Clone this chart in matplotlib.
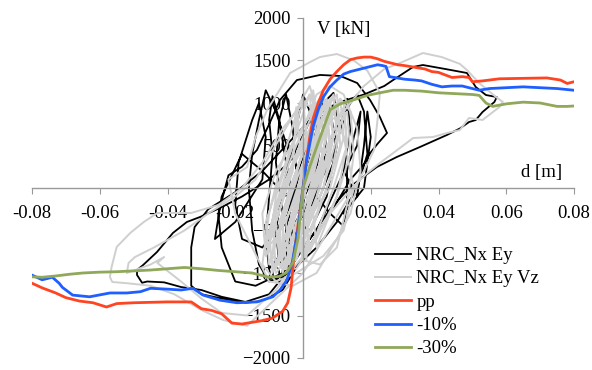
import numpy as np
import matplotlib
matplotlib.use("Agg")
import matplotlib.pyplot as plt

plt.rcParams['font.family'] = ['Liberation Serif', 'DejaVu Serif']

# pushover curves (d [m], V [kN])
pp_d = [-0.080, -0.077, -0.073, -0.070, -0.066, -0.062, -0.058, -0.055, -0.050, -0.045,
        -0.040, -0.036, -0.033, -0.030, -0.027, -0.024, -0.021, -0.018, -0.015, -0.012,
        -0.009, -0.0075, -0.006, -0.0045, -0.0035, -0.0025, -0.0015, -0.0008, 0.0,
        0.001, 0.002, 0.003, 0.0045, 0.006, 0.008, 0.010, 0.012, 0.014, 0.016, 0.018,
        0.020, 0.022, 0.024, 0.026, 0.028, 0.030, 0.033, 0.036, 0.038, 0.040, 0.042,
        0.044, 0.047, 0.049, 0.050, 0.053, 0.058, 0.065, 0.072, 0.076, 0.078, 0.080]
pp_v = [-1120, -1175, -1235, -1290, -1330, -1350, -1400, -1360, -1350, -1345,
        -1340, -1340, -1340, -1420, -1440, -1480, -1590, -1600, -1580, -1560,
        -1530, -1490, -1450, -1350, -1170, -730, -450, -250, 0,
        330, 600, 820, 1000, 1150, 1280, 1370, 1450, 1510, 1530, 1540,
        1540, 1520, 1490, 1470, 1450, 1440, 1420, 1400, 1370, 1360, 1330,
        1300, 1310, 1300, 1250, 1260, 1285, 1290, 1295, 1270, 1230, 1250]

m10_d = [-0.080, -0.077, -0.074, -0.072, -0.071, -0.068, -0.063, -0.057, -0.052, -0.048,
         -0.045, -0.040, -0.036, -0.0325, -0.0295, -0.0245, -0.0195, -0.0136, -0.0089,
         -0.0068, -0.0047, -0.0032, -0.0015, 0.0,
         0.001, 0.002, 0.003, 0.0045, 0.006, 0.008, 0.010, 0.012, 0.014, 0.016, 0.018,
         0.020, 0.022, 0.0235, 0.0245, 0.0255, 0.027, 0.030, 0.033, 0.035, 0.038, 0.041,
         0.044, 0.047, 0.050, 0.052, 0.055, 0.060, 0.065, 0.070, 0.075, 0.080]
m10_v = [-1025, -1080, -1050, -1120, -1170, -1260, -1280, -1235, -1235, -1220,
         -1180, -1190, -1200, -1180, -1260, -1320, -1350, -1340, -1280,
         -1200, -1080, -880, -500, 0,
         300, 520, 720, 920, 1070, 1190, 1270, 1340, 1370, 1390, 1410,
         1430, 1450, 1440, 1430, 1310, 1300, 1280, 1270, 1260, 1220, 1190,
         1200, 1200, 1170, 1150, 1170, 1180, 1190, 1180, 1170, 1150]

m30_d = [-0.080, -0.077, -0.073, -0.069, -0.065, -0.060, -0.055, -0.050, -0.045, -0.040,
         -0.035, -0.030, -0.025, -0.020, -0.015, -0.012, -0.010, -0.007, -0.005, -0.003,
         -0.0015, 0.0,
         0.002, 0.004, 0.006, 0.008, 0.011, 0.0148, 0.019, 0.0227, 0.0266, 0.030, 0.035,
         0.040, 0.045, 0.050, 0.052, 0.054, 0.056, 0.060, 0.065, 0.070, 0.075, 0.078, 0.080]
m30_v = [-1045, -1050, -1035, -1015, -1000, -990, -985, -975, -965, -950,
         -935, -950, -970, -985, -1000, -1030, -1050, -1040, -1000, -880,
         -600, 0,
         250, 480, 700, 920, 990, 1035, 1090, 1120, 1150, 1150, 1140,
         1120, 1110, 1100, 1090, 1000, 960, 990, 1010, 1000, 960, 960, 965]

# cyclic test, NRC_Nx Ey
black_pts = [
    (0.000, 0), (0.003, 500), (0.005, 900), (0.006, 1080), (0.007, 700), (0.006, 200),
    (0.001, -400), (-0.003, -750), (-0.005, -850), (-0.005, -400), (-0.002, 100),
    (0.002, 600), (0.006, 1000), (0.009, 1120), (0.010, 800), (0.009, 300),
    (0.004, -200), (-0.002, -650), (-0.007, -900), (-0.008, -500), (-0.006, 0),
    (-0.003, 500), (-0.001, 900), (0.000, 1100), (0.002, 900), (0.003, 400),
    (0.000, -200), (-0.005, -700), (-0.010, -950), (-0.011, -600), (-0.010, -100),
    (-0.009, 400), (-0.010, 800), (-0.009, 1080), (-0.007, 800), (-0.005, 300),
    (-0.002, -300), (0.004, 200), (0.010, 700), (0.014, 1000), (0.016, 1100),
    (0.018, 900), (0.019, 400), (0.016, 0), (0.010, -400), (0.004, -700),
    (-0.004, -1000), (-0.010, -1100), (-0.013, -900), (-0.015, -500), (-0.016, 0),
    (-0.015, 400), (-0.013, 800), (-0.011, 1150), (-0.008, 900), (-0.004, 400),
    (0.002, 0), (0.008, -300), (0.012, -450), (0.013, -200), (0.013, 200),
    (0.015, 600), (0.017, 900), (0.016, 500), (0.011, 100), (0.004, -500),
    (-0.006, -1000), (-0.014, -1150), (-0.020, -1100), (-0.024, -700), (-0.025, -300),
    (-0.022, 150), (-0.018, 250), (-0.0136, 447), (-0.010, 750), (-0.0068, 1035),
    (-0.0018, 1270), (0.005, 1330), (0.011, 1318), (0.016, 1235), (0.0198, 1035),
    (0.0227, 835), (0.0248, 647), (0.022, 520), (0.020, 420), (0.018, 280),
    (0.014, 100), (0.008, -300), (0.000, -800), (-0.006, -1200), (-0.012, -1330),
    (-0.017, -1350), (-0.024, -1300), (-0.030, -1250), (-0.033, -1150), (-0.033, -700),
    (-0.032, -460), (-0.028, -250), (-0.020, -50), (-0.012, 200), (-0.005, 500),
    (0.002, 800), (0.010, 1000), (0.018, 1100), (0.024, 1200), (0.0266, 1270),
    (0.0325, 1424), (0.0354, 1447), (0.042, 1400), (0.0484, 1353), (0.051, 1188),
    (0.054, 1094), (0.0572, 1070), (0.0565, 1012), (0.053, 894), (0.051, 800),
    (0.049, 776), (0.0463, 700), (0.0425, 624), (0.0345, 482), (0.0277, 365),
    (0.0218, 247), (0.0177, 129), (0.0139, 12), (0.008, -250), (0.002, -600),
    (-0.004, -950), (-0.010, -1250), (-0.017, -1340), (-0.024, -1280), (-0.030, -1200),
    (-0.036, -1165), (-0.041, -1110), (-0.046, -1100), (-0.0475, -1115), (-0.049, -1023),
    (-0.049, -965), (-0.0472, -906), (-0.0431, -753), (-0.0384, -529), (-0.0343, -400),
    (-0.0304, -341), (-0.0245, -235), (-0.018, -100), (-0.010, 100), (-0.004, 300),
    (0.001, 700), (0.004, 1000), (0.006, 700), (0.003, 0), (-0.003, -600),
    (-0.006, -800), (-0.004, -300), (0.000, 300), (0.004, 800), (0.008, 900),
    (0.010, 500), (0.007, -100), (0.002, -500),
    (-0.006, -300), (-0.008, 300), (-0.007, 800), (-0.005, 1100), (-0.003, 700),
    (-0.002, 200), (-0.006, -400), (-0.012, -700), (-0.018, -600), (-0.020, -200),
    (-0.019, 300), (-0.015, 800), (-0.013, 1000), (-0.011, 600), (-0.012, 100),
    (-0.020, -400), (-0.026, -600), (-0.024, -100), (-0.018, 400), (-0.012, 200),
    (0.000, -300), (0.008, 300), (0.012, 800), (0.013, 1050), (0.014, 700),
    (0.012, 200), (0.016, -100), (0.018, 500), (0.019, 900), (0.020, 600),
    (0.018, 0), (0.012, -300),
]

# cyclic test, NRC_Nx Ey Vz
gray_pts = [
    (0.000, 0), (0.004, 600), (0.008, 1000), (0.010, 1100), (0.011, 700), (0.008, 100),
    (0.002, -500), (-0.004, -850), (-0.007, -900), (-0.007, -500), (-0.004, 0),
    (0.001, 500), (0.005, 900), (0.007, 1050), (0.009, 600), (0.006, 0), (0.000, -600),
    (-0.006, -950), (-0.009, -800), (-0.008, -300), (-0.004, 200), (0.002, 700),
    (0.004, 1000), (0.006, 1100), (0.008, 500), (0.004, -100), (-0.002, -700),
    (-0.008, -1000), (-0.010, -700), (-0.008, -100), (-0.003, 500), (-0.001, 900),
    (0.002, 1100), (0.005, 800), (0.003, 200), (-0.002, -300), (-0.006, -800),
    (-0.004, -500), (0.001, 100), (0.006, 700), (0.010, 1000), (0.012, 1000),
    (0.013, 500), (0.010, -100), (0.004, -600), (-0.002, -950), (-0.006, -950),
    (-0.006, -400), (-0.002, 200), (0.003, 800), (0.006, 1050), (0.007, 700),
    (0.005, 200), (0.000, -400), (-0.005, -900), (-0.003, -600), (0.001, 0),
    (0.004, 400), (0.008, 800), (0.011, 1050), (0.014, 900), (0.015, 400),
    (0.013, -200), (0.010, -700), (0.005, -900), (0.000, -850), (-0.003, -300),
    (0.000, 300), (0.003, 700), (0.005, 950), (0.009, 900), (0.012, 600),
    (0.015, 0), (0.012, -500), (0.006, -800), (-0.002, -1000), (-0.008, -1100),
    (-0.012, -900), (-0.010, -300), (-0.007, 200), (-0.004, 600), (-0.001, 1000),
    (0.002, 1200), (0.004, 900), (0.001, 300), (-0.003, -200), (-0.008, -600),
    (-0.011, -700), (-0.008, -200), (-0.004, 300), (0.000, 700), (0.004, 1100),
    (0.008, 1200), (0.012, 1100), (0.016, 700), (0.017, 200), (0.014, -300),
    (0.010, -600), (0.004, -1000), (-0.003, -1150), (-0.010, -1100), (-0.015, -700),
    (-0.020, -300), (-0.022, 100), (-0.0165, 247), (-0.014, 600), (-0.0106, 918),
    (-0.0038, 1353), (0.002, 1480), (0.005, 1541), (0.010, 1576), (0.015, 1500),
    (0.019, 1380), (0.0227, 1118), (0.022, 800), (0.021, 450), (0.018, 200),
    (0.012, -200), (0.006, -600), (0.000, -1000), (-0.008, -1300), (-0.0165, -1620),
    (-0.0236, -1553), (-0.030, -1435), (-0.038, -1250), (-0.045, -1150), (-0.052, -1120),
    (-0.0563, -1106), (-0.057, -1047), (-0.0565, -929), (-0.055, -694), (-0.051, -529),
    (-0.047, -400), (-0.043, -294), (-0.033, -294), (-0.025, -200), (-0.018, 0),
    (-0.012, 300), (-0.006, 700), (0.000, 1000), (0.010, 800), (0.018, 1200),
    (0.024, 1400), (0.0286, 1470), (0.0354, 1588), (0.041, 1540), (0.0463, 1460),
    (0.0484, 1388), (0.052, 1235), (0.057, 1070), (0.059, 1012), (0.058, 953),
    (0.053, 800), (0.049, 824), (0.0463, 682), (0.0425, 647), (0.0384, 600),
    (0.0325, 588), (0.0286, 470), (0.0227, 294), (0.019, 176), (0.0148, 12),
    (0.008, -300), (0.000, -800), (-0.008, -1200), (-0.0165, -1500), (-0.024, -1470),
    (-0.030, -1300), (-0.036, -1100), (-0.043, -882), (-0.041, -812), (-0.045, -900),
    (-0.052, -1000), (-0.0515, -882), (-0.0496, -812), (-0.044, -700), (-0.035, -500),
    (-0.028, -300), (-0.020, -100), (-0.014, 100),
    # dense late cycles around the origin
    (0.000, 1050), (0.001, 600), (-0.003, 0), (-0.010, -900), (-0.011, -400), (-0.006, 200),
    (0.002, 1100), (0.003, 600), (-0.001, 0), (-0.008, -950), (-0.009, -400), (-0.004, 200),
    (0.004, 1000), (0.005, 500), (0.001, 0), (-0.006, -1000), (-0.007, -400), (-0.002, 200),
    (0.006, 1100), (0.007, 600), (0.003, 0), (-0.004, -900), (-0.005, -400), (0.000, 200),
    (0.008, 1050), (0.009, 600), (0.005, 0), (-0.002, -850), (-0.003, -400), (0.002, 200),
    (0.010, 1000), (0.011, 500), (0.007, 0), (0.000, -800), (-0.001, -400), (0.004, 200),
    (0.012, 950), (0.013, 500), (0.009, 0), (0.002, -750), (0.001, -300), (0.006, 300),
    (0.003, 1150), (0.004, 600), (0.000, 0), (-0.009, -1000), (-0.010, -500), (-0.005, 100),
    (0.007, 1000), (0.008, 500), (0.004, 0), (-0.005, -950), (-0.006, -400), (-0.001, 200),
    (0.009, 1100), (0.010, 600), (0.006, 0), (-0.003, -900), (-0.004, -400), (0.001, 200),
    (0.011, 1050), (0.012, 600), (0.008, 0), (-0.007, -850), (-0.008, -400), (-0.003, 200),
    (-0.002, 950), (-0.001, 500), (-0.005, 0), (-0.011, -800), (-0.012, -300), (-0.008, 200),
    (0.005, 1050), (0.006, 600), (0.002, 0), (0.001, -850), (0.000, -400), (0.005, 300),
    (0.013, 900), (0.014, 400), (0.010, -100), (0.004, -700), (0.003, -300), (0.000, 0),
]

black_d = [p[0] for p in black_pts]
black_v = [p[1] for p in black_pts]
gray_d = [p[0] for p in gray_pts]
gray_v = [p[1] for p in gray_pts]

fig = plt.figure(figsize=(5.92, 3.70), dpi=100)
ax = fig.add_axes([32 / 592, 12 / 370, 542 / 592, 340 / 370])

ax.plot(black_d, black_v, color='black', lw=1.3, label='NRC_Nx Ey')
ax.plot(gray_d, gray_v, color='#cfcfcf', lw=1.4, label='NRC_Nx Ey Vz')
ax.plot(pp_d, pp_v, color='#ff4422', lw=2.0, label='pp')
ax.plot(m10_d, m10_v, color='#1f5fff', lw=2.0, label='-10%')
ax.plot(m30_d, m30_v, color='#8fa85a', lw=2.0, label='-30%')

ax.set_xlim(-0.08, 0.08)
ax.set_ylim(-2000, 2000)
ax.set_xticks([-0.08, -0.06, -0.04, -0.02, 0, 0.02, 0.04, 0.06, 0.08])
ax.set_xticklabels(['-0.08', '-0.06', '-0.04', '-0.02', '0', '0.02', '0.04', '0.06', '0.08'])
ax.set_yticks([-2000, -1500, -1000, -500, 0, 500, 1000, 1500, 2000])

for s in ['top', 'right']:
    ax.spines[s].set_visible(False)
ax.spines['left'].set_position(('data', 0))
ax.spines['bottom'].set_position(('data', 0))
for s in ['left', 'bottom']:
    ax.spines[s].set_color('#999999')
    ax.spines[s].set_linewidth(1.0)
ax.tick_params(axis='both', colors='#999999', labelcolor='black', labelsize=13.5, length=4)
ax.tick_params(axis='x', pad=8)
ax.tick_params(axis='y', pad=5)
ax.patch.set_visible(False)

ax.text(0.526, 0.965, 'V [kN]', transform=ax.transAxes, fontsize=13.5, ha='left', va='center')
ax.text(0.941, 0.547, 'd [m]', transform=ax.transAxes, fontsize=13.5, ha='center', va='center')

leg = ax.legend(loc='upper left', bbox_to_anchor=(375 / 592, 1 - 247 / 370),
                bbox_transform=fig.transFigure, frameon=False, fontsize=13.5,
                handlelength=1.9, handletextpad=0.3, labelspacing=0.33,
                borderpad=0, borderaxespad=0)

fig.savefig('out.png', dpi=100)
